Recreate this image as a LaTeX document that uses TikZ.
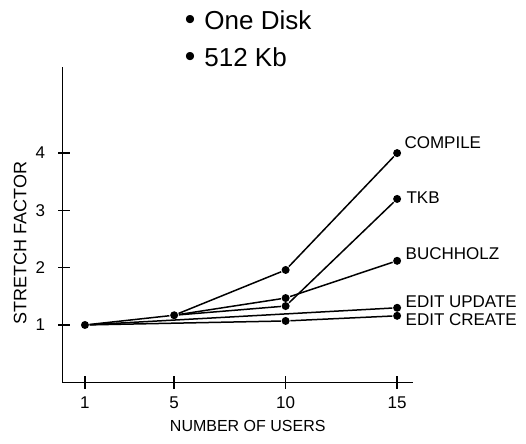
\documentclass[tikz,border=0pt]{standalone}
\usepackage{fontspec}
\setmainfont{Liberation Sans}
\begin{document}
\begin{tikzpicture}[x=22.3pt, y=57.3pt, line width=1.5pt,
  dot/.style={circle, fill, inner sep=0pt, minimum size=8pt},
  lab/.style={anchor=west, inner sep=0pt, font=\fontsize{17}{17}\selectfont},
  tick/.style={inner sep=0pt, font=\fontsize{17}{17}\selectfont},
  key/.style={anchor=west, inner sep=0pt, font=\fontsize{26}{26}\selectfont}]
  \useasboundingbox (-2.81,-1.077) rectangle (20.78,6.672);
  % legend
  \node [key] (disk) at (5.45,6.32) {{\fontsize{30}{30}\selectfont •}\hspace{9pt}One Disk};
  \node [key] (mem) at (5.45,5.68) {{\fontsize{30}{30}\selectfont •}\hspace{9pt}512 Kb};
  % axes
  \coordinate (org) at (0,0);
  \coordinate (ytop) at (0,5.5);
  \coordinate (xend) at (15.7,0);
  \draw (ytop) -- (org) -- (xend);
  \draw (-0.2,1) -- (0.35,1);
  \draw (-0.2,2) -- (0.35,2);
  \draw (-0.2,3) -- (0.35,3);
  \draw (-0.2,4) -- (0.35,4);
  \draw (1,-0.11) -- (1,0.11);
  \draw (5,-0.11) -- (5,0.11);
  \draw (10,-0.11) -- (10,0.11);
  \draw (15,-0.11) -- (15,0.11);
  \node [tick, anchor=east] (y1) at (-0.75,1) {1};
  \node [tick, anchor=east] (y2) at (-0.75,2) {2};
  \node [tick, anchor=east] (y3) at (-0.75,3) {3};
  \node [tick, anchor=east] (y4) at (-0.75,4) {4};
  \node [tick] (x1) at (1,-0.36) {1};
  \node [tick] (x5) at (5,-0.36) {5};
  \node [tick] (x10) at (10,-0.36) {10};
  \node [tick] (x15) at (15,-0.36) {15};
  \node [font=\fontsize{16}{16}\selectfont] (xlab) at (8.3,-0.77) {NUMBER OF USERS};
  \node [rotate=90, font=\fontsize{18}{18}\selectfont] (ylab) at (-1.9,2.43) {STRETCH FACTOR};
  % data points
  \node [dot] (p1) at (1,1) {};
  \node [dot] (p5) at (5,1.17) {};
  \node [dot] (c10) at (10,1.96) {};
  \node [dot] (c15) at (15,4) {};
  \node [dot] (t10) at (10,1.33) {};
  \node [dot] (t15) at (15,3.2) {};
  \node [dot] (b10) at (10,1.47) {};
  \node [dot] (b15) at (15,2.12) {};
  \node [dot] (u15) at (15,1.3) {};
  \node [dot] (e10) at (10,1.07) {};
  \node [dot] (e15) at (15,1.16) {};
  \draw (p1) -- (p5);
  \draw (p5) -- (c10);
  \draw (c10) -- (c15);
  \draw (p5) -- (t10);
  \draw (t10) -- (t15);
  \draw (p5) -- (b10);
  \draw (b10) -- (b15);
  \draw (p1) -- (u15);
  \draw (p1) -- (e10);
  \draw (e10) -- (e15);
  % curve names
  \node [lab] (lcompile) at (15.3,4.18) {COMPILE};
  \node [lab] (ltkb) at (15.39,3.23) {TKB};
  \node [lab] (lbuch) at (15.35,2.24) {BUCHHOLZ};
  \node [lab] (lupdate) at (15.35,1.40) {EDIT UPDATE};
  \node [lab] (lcreate) at (15.35,1.09) {EDIT CREATE};
\end{tikzpicture}
\end{document}
